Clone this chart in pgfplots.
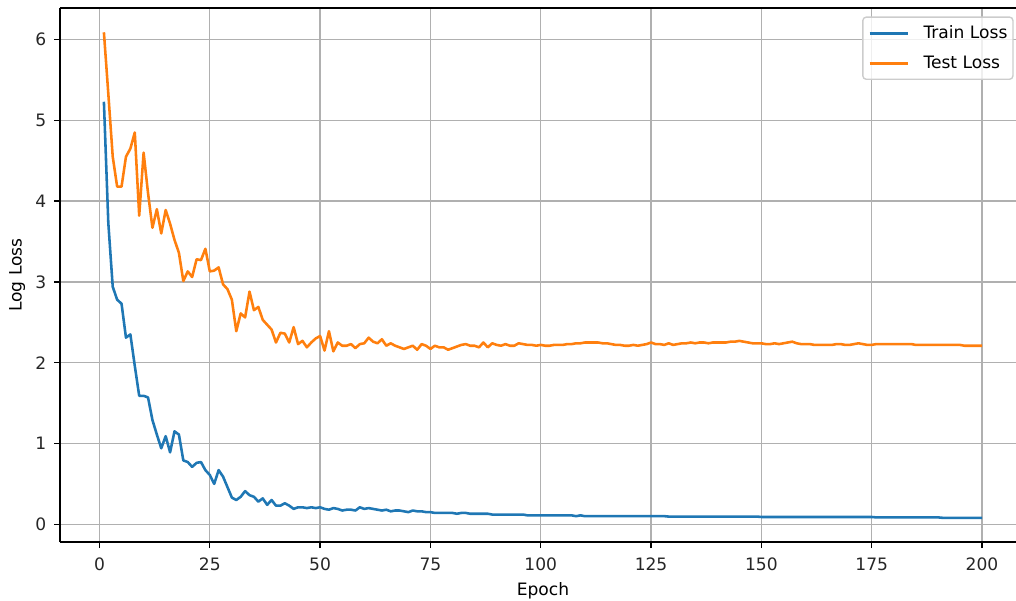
\documentclass[border=0pt]{standalone}
\usepackage{fontspec}
\setmainfont{DejaVu Sans}
\usepackage{pgfplots}
\usepackage{pgfplotstable}
\pgfplotsset{compat=1.18}
\definecolor{tabblue}{HTML}{1F77B4}
\definecolor{taborange}{HTML}{FF7F0E}
\pgfplotstableread{
e v
1 5.23
2 3.73
3 2.94
4 2.78
5 2.73
6 2.31
7 2.35
8 1.96
9 1.59
10 1.59
11 1.57
12 1.29
13 1.11
14 0.94
15 1.09
16 0.89
17 1.15
18 1.11
19 0.79
20 0.77
21 0.71
22 0.76
23 0.77
24 0.67
25 0.61
26 0.50
27 0.67
28 0.59
29 0.46
30 0.33
31 0.30
32 0.34
33 0.41
34 0.36
35 0.34
36 0.28
37 0.32
38 0.24
39 0.30
40 0.23
41 0.23
42 0.26
43 0.23
44 0.19
45 0.21
46 0.21
47 0.20
48 0.21
49 0.20
50 0.21
51 0.19
52 0.18
53 0.20
54 0.19
55 0.17
56 0.18
57 0.18
58 0.17
59 0.21
60 0.19
61 0.20
62 0.19
63 0.18
64 0.17
65 0.18
66 0.16
67 0.17
68 0.17
69 0.16
70 0.15
71 0.17
72 0.16
73 0.16
74 0.15
75 0.15
76 0.14
77 0.14
78 0.14
79 0.14
80 0.14
81 0.13
82 0.14
83 0.14
84 0.13
85 0.13
86 0.13
87 0.13
88 0.13
89 0.12
90 0.12
91 0.12
92 0.12
93 0.12
94 0.12
95 0.12
96 0.12
97 0.11
98 0.11
99 0.11
100 0.11
101 0.11
102 0.11
103 0.11
104 0.11
105 0.11
106 0.11
107 0.11
108 0.10
109 0.11
110 0.10
111 0.10
112 0.10
113 0.10
114 0.10
115 0.10
116 0.10
117 0.10
118 0.10
119 0.10
120 0.10
121 0.10
122 0.10
123 0.10
124 0.10
125 0.10
126 0.10
127 0.10
128 0.10
129 0.095
130 0.095
131 0.095
132 0.095
133 0.095
134 0.095
135 0.095
136 0.095
137 0.095
138 0.095
139 0.095
140 0.095
141 0.095
142 0.095
143 0.095
144 0.095
145 0.095
146 0.095
147 0.095
148 0.095
149 0.095
150 0.09
151 0.09
152 0.09
153 0.09
154 0.09
155 0.09
156 0.09
157 0.09
158 0.09
159 0.09
160 0.09
161 0.09
162 0.09
163 0.09
164 0.09
165 0.09
166 0.09
167 0.09
168 0.09
169 0.09
170 0.09
171 0.09
172 0.09
173 0.09
174 0.09
175 0.09
176 0.085
177 0.085
178 0.085
179 0.085
180 0.085
181 0.085
182 0.085
183 0.085
184 0.085
185 0.085
186 0.085
187 0.085
188 0.085
189 0.085
190 0.085
191 0.08
192 0.08
193 0.08
194 0.08
195 0.08
196 0.08
197 0.08
198 0.08
199 0.08
200 0.08
}\trainloss
\pgfplotstableread{
e v
1 6.09
2 5.33
3 4.55
4 4.18
5 4.18
6 4.55
7 4.65
8 4.85
9 3.82
10 4.60
11 4.10
12 3.67
13 3.90
14 3.60
15 3.89
16 3.72
17 3.52
18 3.36
19 3.01
20 3.13
21 3.06
22 3.28
23 3.27
24 3.41
25 3.13
26 3.14
27 3.18
28 2.97
29 2.91
30 2.78
31 2.39
32 2.61
33 2.56
34 2.88
35 2.65
36 2.69
37 2.53
38 2.47
39 2.41
40 2.25
41 2.37
42 2.36
43 2.25
44 2.44
45 2.23
46 2.27
47 2.19
48 2.25
49 2.30
50 2.33
51 2.15
52 2.39
53 2.14
54 2.25
55 2.21
56 2.21
57 2.23
58 2.18
59 2.23
60 2.24
61 2.31
62 2.26
63 2.24
64 2.29
65 2.21
66 2.24
67 2.21
68 2.19
69 2.17
70 2.19
71 2.21
72 2.16
73 2.23
74 2.21
75 2.17
76 2.21
77 2.19
78 2.19
79 2.16
80 2.18
81 2.20
82 2.22
83 2.23
84 2.21
85 2.21
86 2.19
87 2.25
88 2.19
89 2.24
90 2.22
91 2.21
92 2.23
93 2.21
94 2.21
95 2.24
96 2.23
97 2.22
98 2.22
99 2.21
100 2.22
101 2.21
102 2.21
103 2.22
104 2.22
105 2.22
106 2.23
107 2.23
108 2.24
109 2.24
110 2.25
111 2.25
112 2.25
113 2.25
114 2.24
115 2.24
116 2.23
117 2.22
118 2.22
119 2.21
120 2.21
121 2.22
122 2.21
123 2.22
124 2.23
125 2.25
126 2.23
127 2.23
128 2.22
129 2.24
130 2.22
131 2.23
132 2.24
133 2.24
134 2.25
135 2.24
136 2.25
137 2.25
138 2.24
139 2.25
140 2.25
141 2.25
142 2.25
143 2.26
144 2.26
145 2.27
146 2.26
147 2.25
148 2.24
149 2.24
150 2.24
151 2.23
152 2.23
153 2.24
154 2.23
155 2.24
156 2.25
157 2.26
158 2.24
159 2.23
160 2.23
161 2.23
162 2.22
163 2.22
164 2.22
165 2.22
166 2.22
167 2.23
168 2.23
169 2.22
170 2.22
171 2.23
172 2.24
173 2.23
174 2.22
175 2.22
176 2.23
177 2.23
178 2.23
179 2.23
180 2.23
181 2.23
182 2.23
183 2.23
184 2.23
185 2.22
186 2.22
187 2.22
188 2.22
189 2.22
190 2.22
191 2.22
192 2.22
193 2.22
194 2.22
195 2.22
196 2.21
197 2.21
198 2.21
199 2.21
200 2.21
}\testloss
\begin{document}
\begin{tikzpicture}
\path[use as bounding box] (-35.1pt,-34.5pt) rectangle (559.3pt,317.1pt);
\begin{axis}[
  at={(0pt,0pt)}, anchor=south west,
  scale only axis,
  width=565.1pt, height=312.4pt,
  xmin=-8.95, xmax=209.95,
  ymin=-0.22, ymax=6.39,
  xtick={0,25,...,200},
  ytick={0,1,...,6},
  axis x line*=bottom, axis y line*=left,
  grid=major,
  grid style={color=black!31, line width=0.8pt},
  axis line style={line width=0.8pt, black, -},
  tick style={black, line width=0.8pt},
  tick align=outside,
  major tick length=3.5pt,
  /pgf/number format/assume math mode=true,
  tick label style={font=\fontsize{10}{12}\selectfont, color=black!85},
  xticklabel style={inner sep=0pt, anchor=north, yshift=-5.4pt},
  yticklabel style={inner sep=0pt, anchor=east, xshift=-4.4pt},
  xlabel={Epoch}, ylabel={Log Loss},
  label style={font=\fontsize{10}{12}\selectfont},
  xlabel style={at={(axis description cs:0.5,0)}, anchor=center, yshift=-28.6pt},
  ylabel style={at={(axis description cs:0,0.5)}, anchor=center, yshift=25pt},
  extra description/.code={\draw[line width=0.8pt, black] (rel axis cs:0,1) -- (rel axis cs:1,1);},
  legend cell align=left,
  legend style={font=\fontsize{10}{12}\selectfont, draw=black!20, line width=0.8pt, rounded corners=2pt, fill=white, fill opacity=0.8, text opacity=1,
    at={(1,1)}, anchor=north east, xshift=-7.2pt, yshift=-4.9pt,
    inner xsep=3.2pt, inner ysep=5.0pt, row sep=8.5pt,
    nodes={inner sep=0pt},
    /tikz/every odd column/.append style={column sep=8.2pt}},
  legend image code/.code={\draw[#1, line width=1.5pt] (0pt,0pt) -- (22.6pt,0pt);},
]
\addplot[tabblue, line width=1.5pt, line join=round] table[x=e, y=v] {\trainloss};
\addlegendentry{Train Loss}
\addplot[taborange, line width=1.5pt, line join=round] table[x=e, y=v] {\testloss};
\addlegendentry{Test Loss}
\end{axis}
\end{tikzpicture}
\end{document}
